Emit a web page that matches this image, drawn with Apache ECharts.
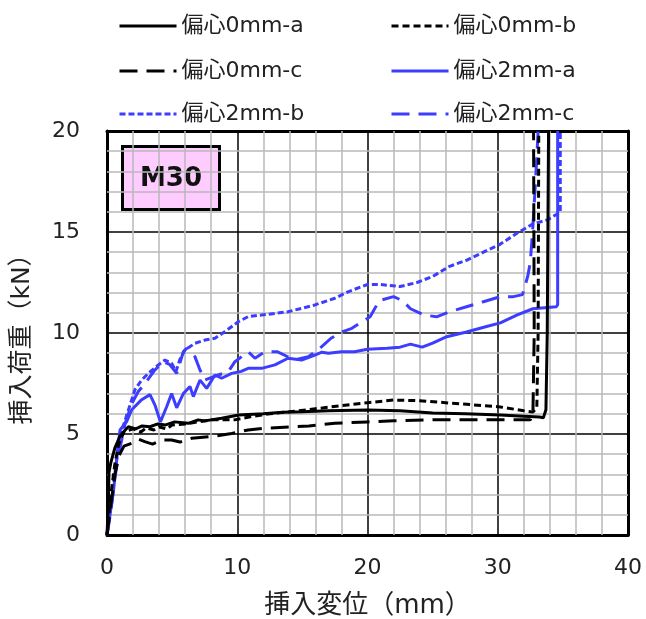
<!DOCTYPE html>
<html><head><meta charset="utf-8">
<script src="https://cdn.jsdelivr.net/npm/echarts/dist/echarts.min.js"></script>
<style>html,body{margin:0;padding:0;background:#fff}#c{width:646px;height:619px}</style>
</head><body><div id="c"></div>
<script>
// ---- data (x: 挿入変位 mm, y: 挿入荷重 kN) ----
const seriesNames = ['偏心0mm-a','偏心0mm-b','偏心0mm-c','偏心2mm-a','偏心2mm-b','偏心2mm-c'];
const xAxisRange = [0, 40, 10];   // min, max, major step
const yAxisRange = [0, 20, 5];
const minorGridX = [2,4,6,8,12,14,16,18,22,24,26,28,32,34,36,38];
const minorGridY = [1,2,3,4,6,7,8,9,11,12,13,14,16,17,18,19];
const xAxisTitle = '挿入変位（mm）';
const yAxisTitle = '挿入荷重（kN）';
const panelLabel = 'M30';

const ecc0a = [[0,0],[0.1,1.5],[0.15,3.1],[0.3,3.6],[0.6,4.3],[1.0,4.9],[1.4,5.2],[1.64,5.36],[2.2,5.25],[2.7,5.4],[3.3,5.36],[3.9,5.5],[4.5,5.45],[5.2,5.6],[6.24,5.53],[7.0,5.7],[7.5,5.65],[8.8,5.78],[10.1,5.94],[12,6.0],[13.5,6.08],[15,6.1],[17,6.15],[20,6.19],[22.5,6.15],[25,6.04],[27.5,6.0],[30.2,5.94],[32,5.88],[33.2,5.84],[33.5,5.8],[33.7,6.2],[33.8,10],[33.9,20]];
const ecc0b = [[0,0],[0.3,2.0],[0.6,3.5],[0.9,4.5],[1.3,5.1],[2,5.25],[2.6,5.1],[3,5.3],[3.6,5.2],[4,5.35],[4.6,5.25],[5,5.45],[6,5.5],[7,5.6],[8,5.7],[9.8,5.7],[11,5.85],[12.5,6.0],[14,6.1],[16,6.25],[18,6.4],[20,6.55],[22,6.68],[24,6.65],[26,6.55],[28,6.45],[30.2,6.34],[32,6.15],[32.7,6.09],[33.0,6.3],[33.1,10],[33.15,20]];
const ecc0c = [[0,0],[0.3,1.5],[0.61,3.0],[0.9,3.9],[1.3,4.4],[1.9,4.54],[2.4,4.75],[2.9,4.62],[3.5,4.5],[4.2,4.7],[4.96,4.7],[5.6,4.6],[6.5,4.79],[8.0,4.87],[9.57,5.03],[10.84,5.2],[12,5.28],[14.3,5.36],[15.5,5.4],[17.5,5.53],[20,5.6],[22,5.65],[25,5.7],[28,5.7],[30.2,5.7],[32.5,5.7],[32.7,6.0],[32.8,10],[32.75,20]];
const ecc2a = [[0,0],[0.5,2.2],[0.85,4.4],[1.0,5.2],[1.5,5.6],[1.9,6.2],[2.66,6.7],[3.3,6.95],[3.7,6.4],[4.1,5.6],[4.58,6.35],[4.96,7.0],[5.35,6.3],[5.86,7.0],[6.37,7.35],[6.63,6.85],[7.14,7.67],[7.65,7.26],[8.29,7.92],[8.8,7.76],[9.57,8.0],[10.3,8.1],[10.84,8.25],[11.87,8.25],[12.89,8.42],[13.9,8.75],[14.94,8.66],[15.96,8.91],[16.5,9.05],[17.0,9.0],[18,9.07],[19,9.07],[20,9.2],[21.5,9.25],[22.5,9.3],[23.3,9.45],[24.2,9.3],[25,9.5],[26,9.8],[27.6,10.05],[29,10.3],[30.2,10.5],[31.5,10.9],[32.7,11.2],[34.5,11.3],[34.6,11.4],[34.6,20]];
const ecc2b = [[0,0],[0.3,1.5],[0.6,3.0],[0.84,4.2],[1.1,5.1],[1.5,5.9],[2.15,7.2],[2.66,7.67],[3.17,8.0],[3.94,8.42],[4.45,8.66],[4.96,8.5],[5.3,8.1],[5.6,8.7],[5.99,9.16],[6.75,9.49],[7.52,9.65],[8.29,9.74],[9.06,10.07],[10.08,10.56],[10.84,10.81],[11.87,10.89],[13.9,11.05],[15.96,11.39],[17.5,11.72],[18.5,12.04],[20,12.4],[21,12.4],[22.5,12.3],[23.8,12.5],[25,12.8],[26.3,13.3],[27.6,13.6],[28.9,14.0],[30.2,14.4],[31.5,14.95],[32.7,15.4],[33.8,15.6],[34.6,15.9],[34.8,16.0],[34.8,20]];
const ecc2c = [[0,0],[0.3,1.2],[0.6,2.8],[0.9,4.0],[1.38,5.5],[1.9,6.5],[2.4,7.1],[2.92,7.5],[3.68,8.17],[4.32,8.58],[4.8,8.45],[5.35,8.0],[5.86,9.07],[6.11,9.24],[6.75,8.83],[7.14,8.17],[7.52,7.67],[8.54,7.92],[9.31,8.08],[9.82,8.58],[10.84,9.07],[11.36,8.75],[12.1,9.07],[13.1,9.07],[14.4,8.66],[15.45,8.83],[16.2,9.16],[17.2,9.74],[18.1,10.07],[18.8,10.23],[19.4,10.48],[20.2,10.8],[20.9,11.6],[22.0,11.8],[22.7,11.6],[23.3,11.2],[24.3,10.9],[25.3,10.8],[26.3,11.05],[27.6,11.3],[28.9,11.55],[30.2,11.8],[31.2,11.8],[31.9,11.9],[32.3,12.8],[32.5,13.5],[32.7,15.3],[32.9,17.5],[33.1,20]];

const seriesData = [ecc0a, ecc0b, ecc0c, ecc2a, ecc2b, ecc2c];

// ---- styles ----
const BLUE = '#3d3dff';
const FONT = '"DejaVu Sans","Noto Sans CJK JP",sans-serif';
const lineStyles = [
  {color:'#000', type:'solid'},
  {color:'#000', type:[7,4]},
  {color:'#000', type:[18,9]},
  {color:BLUE, type:'solid'},
  {color:BLUE, type:[6,3]},
  {color:BLUE, type:[18,9]}
];
const legendPos = [
  {left:113, top:10}, {left:385, top:10},
  {left:113, top:55}, {left:385, top:55},
  {left:113, top:98}, {left:385, top:98}
];

const chart = echarts.init(document.getElementById('c'));
const borderLine = {show:true, onZero:false, lineStyle:{color:'#000', width:3}};

const gridSeries = {
  name: '__minorGrid', type: 'line', data: [], xAxisIndex:0, yAxisIndex:0, z: 1,
  showSymbol:false, symbol:'none', silent:true, legendHoverLink:false,
  markLine: {
    silent: true, symbol: ['none','none'], animation:false,
    label: {show:false},
    emphasis: {disabled:true},
    lineStyle: {color:'#b8b8b8', width:1.5, type:'solid'},
    data: minorGridX.map(v => ({xAxis: v})).concat(minorGridY.map(v => ({yAxis: v})))
  }
};

const option = {
  animation: false,
  grid: {left:107, right:18, top:131, bottom:84, outerBoundsMode:'none'},
  legend: seriesNames.map((n,i) => ({
    left: legendPos[i].left, top: legendPos[i].top,
    data: [n], itemWidth: 57, itemHeight: 24, itemGap: 0,
    textStyle: {fontFamily: FONT, fontSize: 22, color:'#222'},
    lineStyle: {width: 3},
    itemStyle: {opacity: 0}
  })),
  xAxis: [{
    type:'value', min:xAxisRange[0], max:xAxisRange[1], interval:xAxisRange[2], position:'bottom',
    name: xAxisTitle, nameLocation:'middle', nameGap:58,
    nameTextStyle:{fontFamily:FONT, fontSize:26, color:'#222'},
    axisLine: borderLine, axisTick:{show:false},
    axisLabel:{fontFamily:FONT, fontSize:22, color:'#222', margin:22},
    splitLine:{show:true, lineStyle:{color:'#000', width:1.5}}
  }, {
    type:'value', min:xAxisRange[0], max:xAxisRange[1], interval:xAxisRange[2], position:'top',
    axisLine: borderLine, axisTick:{show:false}, axisLabel:{show:false}, splitLine:{show:false}
  }],
  yAxis: [{
    type:'value', min:yAxisRange[0], max:yAxisRange[1], interval:yAxisRange[2], position:'left',
    name: yAxisTitle, nameLocation:'middle', nameGap:72, nameRotate:90,
    nameTextStyle:{fontFamily:FONT, fontSize:25, color:'#222'},
    axisLine: borderLine, axisTick:{show:false},
    axisLabel:{fontFamily:FONT, fontSize:22, color:'#222', margin:27},
    splitLine:{show:true, lineStyle:{color:'#000', width:1.5}}
  }, {
    type:'value', min:yAxisRange[0], max:yAxisRange[1], interval:yAxisRange[2], position:'right',
    axisLine: borderLine, axisTick:{show:false}, axisLabel:{show:false}, splitLine:{show:false}
  }],
  graphic: [{
    type:'group', left:121, top:145, z:100,
    children:[
      {type:'rect', shape:{x:0,y:0,width:97,height:63}, style:{fill:'#ffccff', stroke:'#000', lineWidth:3}},
      {type:'text', x:48.5, y:33, style:{text:panelLabel, fontFamily:FONT, fontSize:26, fontWeight:'bold', fill:'#111', align:'center', verticalAlign:'middle'}}
    ]
  }],
  series: [gridSeries].concat(seriesNames.map((n,i) => ({
    name: n, type:'line', data: seriesData[i], showSymbol:false, symbol:'none',
    xAxisIndex:0, yAxisIndex:0,
    lineStyle: {color: lineStyles[i].color, type: lineStyles[i].type, width:3},
    itemStyle: {color: lineStyles[i].color},
    z: 10 - i
  })))
};
chart.setOption(option);
</script></body></html>
